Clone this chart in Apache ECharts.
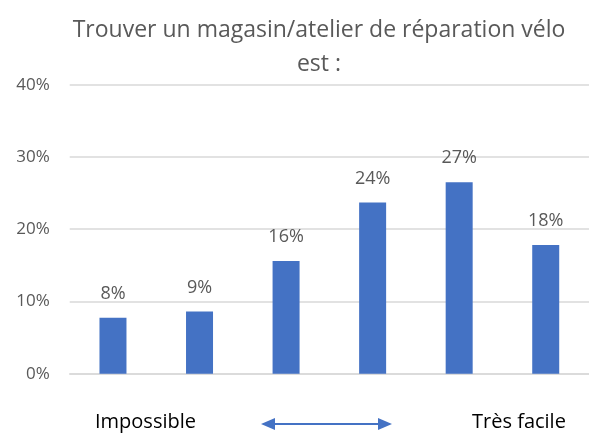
<!DOCTYPE html>
<html>
<head>
<meta charset="utf-8">
<script src="https://cdn.jsdelivr.net/npm/echarts@6/dist/echarts.min.js"></script>
<style>html,body{margin:0;padding:0;background:#fff;}#c{width:589px;height:433px;}</style>
</head>
<body>
<div id="c"></div>
<script>
const titleText = "Trouver un magasin/atelier de réparation vélo\nest :";
const categories = ["1", "2", "3", "4", "5", "6"];
const values = [7.75, 8.6, 15.6, 23.7, 26.5, 17.8];
const yTicks = [0, 10, 20, 30, 40];
const leftLabel = "Impossible";
const rightLabel = "Très facile";

const FONT = "'Open Sans', sans-serif";
const GREY = "#595959";
const chart = echarts.init(document.getElementById('c'), null, {renderer: 'canvas'});
chart.setOption({
  animation: false,
  backgroundColor: '#fff',
  title: {
    text: titleText,
    left: 314, top: 8, textAlign: 'center',
    textStyle: {fontFamily: FONT, fontSize: 23, fontWeight: 'normal', color: GREY, lineHeight: 34}
  },
  grid: {left: 69.7, right: -9, top: 84.7, bottom: 59.3, containLabel: false},
  xAxis: {
    type: 'category', data: categories,
    axisLine: {lineStyle: {color: '#d9d9d9', width: 1.5}},
    axisTick: {show: false}, axisLabel: {show: false}
  },
  yAxis: {
    type: 'value', min: yTicks[0], max: yTicks[yTicks.length - 1], interval: 10,
    axisLine: {show: false}, axisTick: {show: false},
    splitLine: {lineStyle: {color: '#d9d9d9', width: 1.5}},
    axisLabel: {formatter: '{value}%', margin: 20, fontFamily: FONT, fontSize: 17, color: GREY}
  },
  series: [{
    type: 'bar', data: values, barWidth: 27,
    itemStyle: {color: '#4472C4'},
    label: {
      show: true, position: 'top', distance: 15,
      formatter: p => Math.round(p.value) + '%',
      fontFamily: FONT, fontSize: 18, color: GREY
    }
  }],
  graphic: [
    {type: 'text', left: 95, top: 412, style: {text: leftLabel, font: "20px " + FONT, fill: '#000'}},
    {type: 'text', left: 472, top: 412, style: {text: rightLabel, font: "20px " + FONT, fill: '#000'}},
    {type: 'line', shape: {x1: 272, y1: 424, x2: 381, y2: 424}, style: {stroke: '#4472C4', lineWidth: 2}},
    {type: 'polygon', shape: {points: [[261, 424], [275, 418], [275, 430]]}, style: {fill: '#4472C4'}},
    {type: 'polygon', shape: {points: [[392, 424], [378, 418], [378, 430]]}, style: {fill: '#4472C4'}}
  ]
});
</script>
</body>
</html>
